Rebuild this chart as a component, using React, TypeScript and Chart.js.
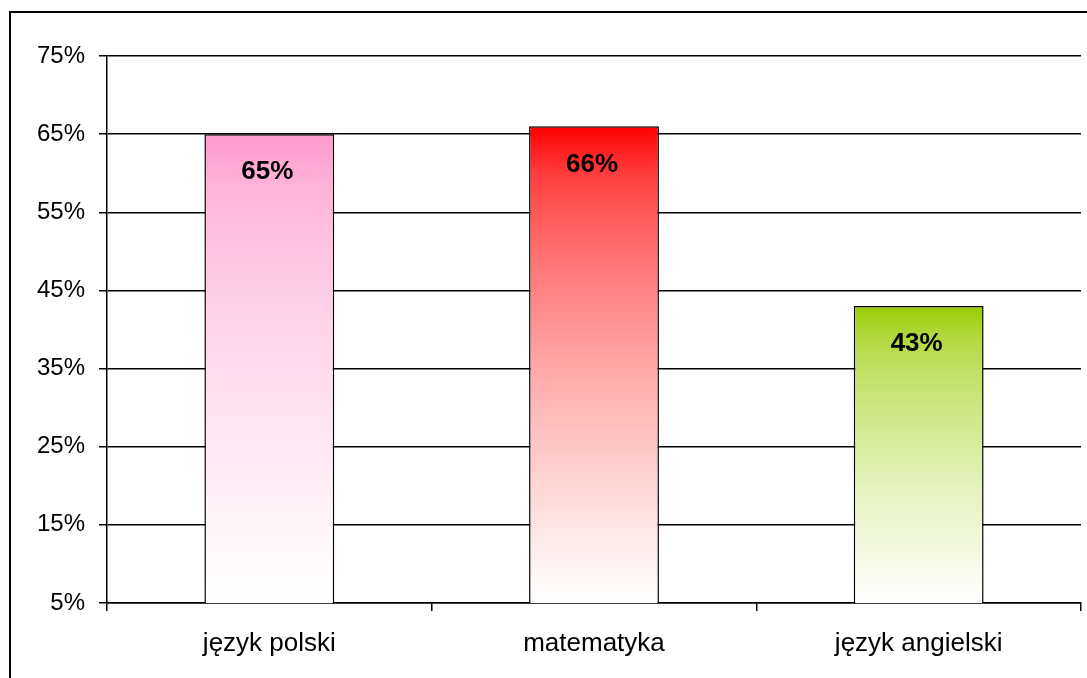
import React, { useEffect, useRef } from "react";
import { Chart, registerables } from "chart.js";

Chart.register(...registerables);

const categories = ["język polski", "matematyka", "język angielski"];
const values = [65, 66, 43];
const topColors = [
  [255, 153, 204],
  [255, 0, 0],
  [153, 204, 0],
];
const yTicks = { min: 5, max: 75, step: 10 };

const FONT = "'Liberation Sans', Arial, sans-serif";

const framePlugin = {
  id: "frame",
  afterDraw(chart: any) {
    const ctx = chart.ctx;
    ctx.save();
    ctx.strokeStyle = "#000";
    ctx.lineWidth = 2;
    ctx.strokeRect(10, 12, 1200, 800);
    ctx.restore();
  },
};

const labelPlugin = {
  id: "barLabels",
  afterDatasetsDraw(chart: any) {
    const ctx = chart.ctx;
    const meta = chart.getDatasetMeta(0);
    ctx.save();
    ctx.font = `bold 26px ${FONT}`;
    ctx.fillStyle = "#000";
    ctx.textAlign = "center";
    ctx.textBaseline = "middle";
    meta.data.forEach((bar: any, i: number) => {
      ctx.fillText(values[i] + "%", bar.x - 2, bar.y + 38);
    });
    ctx.restore();
  },
};

function mix(c: number[], w: number) {
  const r = Math.round(c[0] + (255 - c[0]) * w);
  const g = Math.round(c[1] + (255 - c[1]) * w);
  const b = Math.round(c[2] + (255 - c[2]) * w);
  return `rgb(${r},${g},${b})`;
}

export default function App() {
  const ref = useRef<HTMLCanvasElement | null>(null);
  useEffect(() => {
    if (!ref.current) return;
    const chart = new Chart(ref.current, {
      type: "bar",
      data: {
        labels: categories,
        datasets: [
          {
            data: values,
            backgroundColor: (c: any) => {
              const ch = c.chart;
              const y = ch.scales?.y;
              const idx = c.dataIndex ?? 0;
              if (!ch.chartArea || !y) return mix(topColors[idx], 0);
              const v = values[idx];
              const top = y.getPixelForValue(v);
              const bottom = y.getPixelForValue(yTicks.min);
              const g = ch.ctx.createLinearGradient(0, top, 0, bottom);
              for (let s = 0; s <= 10; s++) {
                const f = s / 10;
                g.addColorStop(f, mix(topColors[idx], Math.pow(f, 0.62)));
              }
              return g;
            },
            borderColor: "#000",
            borderWidth: 1.5,
            borderSkipped: false,
            barPercentage: 0.4,
            categoryPercentage: 1,
          },
        ],
      },
      options: {
        animation: false,
        responsive: false,
        layout: { padding: { left: 10, top: 56, right: 6, bottom: 0 } },
        plugins: { legend: { display: false }, tooltip: { enabled: false } },
        scales: {
          x: {
            offset: true,
            grid: {
              display: true,
              offset: true,
              drawOnChartArea: false,
              drawTicks: true,
              tickLength: 8,
              color: "#000",
              lineWidth: 1.5,
            },
            border: { display: true, color: "#000", width: 1.5 },
            ticks: { color: "#000", font: { family: FONT, size: 26 }, padding: 17 },
            afterFit: (s: any) => {
              s.height = 75;
            },
          },
          y: {
            min: yTicks.min,
            max: yTicks.max,
            ticks: {
              stepSize: yTicks.step,
              color: "#000",
              font: { family: FONT, size: 24 },
              padding: 14,
              callback: (v: any) => v + "%",
            },
            grid: { color: "#000", lineWidth: 1.5, tickLength: 8, drawTicks: true },
            border: { display: true, color: "#000", width: 1.5 },
            afterFit: (s: any) => {
              s.width = 97;
            },
          },
        },
      },
      plugins: [framePlugin, labelPlugin],
    });
    return () => chart.destroy();
  }, []);
  return (
    <div style={{ position: "absolute", left: 0, top: 0, width: 1087, height: 678, background: "#fff" }}>
      <canvas ref={ref} width={1087} height={678} />
    </div>
  );
}
